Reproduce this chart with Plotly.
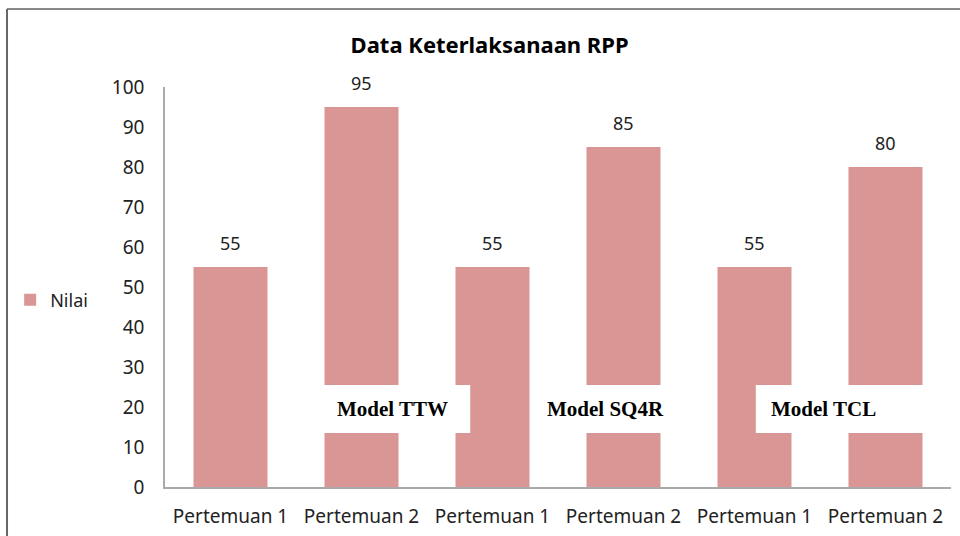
import plotly.graph_objects as go

categories = ["Pertemuan 1", "Pertemuan 2", "Pertemuan 1", "Pertemuan 2", "Pertemuan 1", "Pertemuan 2"]
nilai = [55, 95, 55, 85, 55, 80]
models = ["Model TTW", "Model SQ4R", "Model TCL"]
y_ticks = list(range(0, 101, 10))

bar_color = "#D99694"
font_main = "Noto Sans"
xpos = list(range(len(categories)))

fig = go.Figure()
fig.add_trace(go.Bar(
    x=xpos, y=nilai, name="Nilai", marker=dict(color=bar_color, line=dict(width=0)),
    showlegend=True, hoverinfo="skip",
))

# value labels above bars
for xi, v in zip(xpos, nilai):
    fig.add_annotation(x=xi, y=v, text=str(v), showarrow=False, yanchor="bottom",
                       yshift=10, font=dict(family=font_main, size=18, color="#222"))

# model boxes (white) with serif bold text
boxes = [(0.66, 1.83, 1.235), (2.30, 3.43, 2.86), (4.01, 5.45, 4.53)]
for (x0, x1, xc), label in zip(boxes, models):
    fig.add_shape(type="rect", xref="x", yref="y", x0=x0, x1=x1, y0=13.5, y1=25.5,
                  fillcolor="white", line=dict(width=0), layer="above")
    fig.add_annotation(x=xc, y=19.5, text="<b>" + label + "</b>", showarrow=False,
                       font=dict(family="Liberation Serif", size=21, color="black"))

# outer border (top and left)
fig.add_shape(type="line", xref="paper", yref="paper", x0=-0.201, x1=1.02, y0=1.195, y1=1.195,
              line=dict(color="#888", width=2))
fig.add_shape(type="line", xref="paper", yref="paper", x0=-0.201, x1=-0.201, y0=1.195, y1=-0.2,
              line=dict(color="#666", width=2))

fig.update_layout(
    width=960, height=536,
    margin=dict(l=165, r=9, t=87, b=49, autoexpand=False),
    paper_bgcolor="white", plot_bgcolor="white",
    bargap=0.435,
    title=dict(text="<b>Data Keterlaksanaan RPP</b>", x=0.51, xanchor="center",
               y=0.916, yanchor="middle", yref="container",
               font=dict(family=font_main, size=22, color="black")),
    legend=dict(x=-0.197, y=0.4675, xanchor="left", yanchor="middle",
                font=dict(family=font_main, size=18, color="#222"),
                itemwidth=30),
    xaxis=dict(tickmode="array", tickvals=xpos, ticktext=categories,
               range=[-0.5, len(categories) - 0.5], automargin=False,
               showline=True, linecolor="#aaa", linewidth=1.5, ticks="",
               showgrid=False, zeroline=False, ticklabelstandoff=11,
               tickfont=dict(family=font_main, size=19, color="#222")),
    yaxis=dict(range=[0, 100], tickmode="array", tickvals=y_ticks, automargin=False,
               showline=True, linecolor="#aaa", linewidth=1.5, ticks="",
               showgrid=False, zeroline=False, ticklabelstandoff=15,
               tickfont=dict(family=font_main, size=19, color="#222")),
)

fig.write_html("out.html", config={"displayModeBar": False},
               post_script="document.body.style.margin='0px';")
